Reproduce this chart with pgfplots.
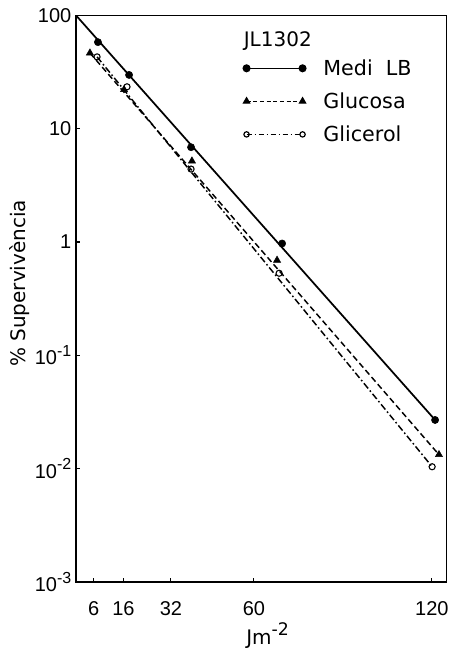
\documentclass[border=0pt]{standalone}
\usepackage{pgfplots}
\pgfplotsset{compat=1.18}
\usepackage{fontspec}
\setmainfont{Liberation Sans}
\newfontfamily\dejavu{DejaVu Sans}

% survival data (dose in J m^-2, % survival)
\pgfplotstableread{
x y
7.4 58
17.9 29.8
38.8 6.86
69.5 0.97
121.1 0.0269
}\medilb
\pgfplotstableread{
x y
4.7 46.5
16.2 22.1
39.1 5.18
67.8 0.69
122.4 0.0133
}\glucosa
\pgfplotstableread{
x y
7.1 43
17.2 23.4
38.8 4.4
68.5 0.53
120.1 0.0104
}\glicerol

\newcommand{\tenpow}[1]{10\raisebox{0.8ex}{\fontsize{12}{12}\selectfont#1}}

\begin{document}
\begin{tikzpicture}
% fixed frame: the axis box sits with its lower left corner at the origin
\useasboundingbox (-57pt,-51pt) rectangle (279.75pt,436.5pt);
\begin{axis}[
  scale only axis, width=278pt, height=425pt,
  ymode=log, xmin=0, xmax=125, ymin=1e-3, ymax=100,
  axis line style={line width=1.2pt},
  xtick={6,16,32,60,120}, xtick pos=bottom,
  ytick={1e-3,1e-2,1e-1,1,10,100}, ytick pos=left,
  yticklabels={\tenpow{-3},\tenpow{-2},\tenpow{-1},1,10,100},
  yminorticks=false,
  tick align=inside, major tick length=3pt,
  tick style={line width=0.8pt, black},
  ticklabel style={font=\fontsize{15}{17}\selectfont},
  xticklabel style={anchor=center, yshift=-20pt},
  /pgf/number format/assume math mode=true,
  xlabel={Jm\raisebox{0.8ex}{\fontsize{13}{13}\selectfont -2}},
  xlabel style={font=\dejavu\fontsize{15}{17}\selectfont, at={(rel axis cs:0.517,0)}, anchor=center, yshift=-40pt},
  ylabel={\% Supervivència},
  ylabel style={font=\dejavu\fontsize{15}{17}\selectfont, at={(rel axis cs:0,0.527)}, anchor=center, yshift=42pt},
  legend style={draw=none, fill=none, at={(0.44,0.932)}, anchor=north west,
    font=\dejavu\fontsize{15.5}{17}\selectfont, row sep=7.5pt},
  legend cell align=left,
  legend image code/.code={
    \draw[#1, mark repeat=2, mark phase=1] plot coordinates {(0pt,0pt) (21pt,0pt) (42pt,0pt)};
    \path (55pt,0pt);
  },
]
% fitted lines
\addplot[black, line width=1.3pt, forget plot] coordinates {(0,100) (121.1,0.0269)};
\addplot[black, line width=1.1pt, dash pattern=on 4.5pt off 2.5pt, forget plot]
  coordinates {(4.7,46.5) (122.4,0.0133)};
\addplot[black, line width=1.1pt, dash pattern=on 5pt off 2pt on 1.2pt off 2pt, forget plot]
  coordinates {(7.1,43) (120.1,0.0104)};
% measured points
\addplot[only marks, mark=*, mark size=2.7pt, black, forget plot] table {\medilb};
\addplot[only marks, mark=triangle*, mark size=3.1pt, black, forget plot] table {\glucosa};
\addplot[only marks, mark=o, mark size=2.3pt, black, thick, forget plot, fill=white] table {\glicerol};
% legend
\addlegendimage{black, line width=1.2pt, mark=*, mark size=2.4pt}
\addlegendentry{Medi\ \ LB}
\addlegendimage{black, line width=0.9pt, dash pattern=on 3pt off 2pt, mark=triangle*, mark size=2.7pt, mark options={solid}}
\addlegendentry{Glucosa}
\addlegendimage{black, line width=0.9pt, dash pattern=on 4pt off 2pt on 1pt off 2pt, mark=o, mark size=2pt, mark options={solid}}
\addlegendentry{Glicerol}
\node[anchor=west, font=\dejavu\fontsize{15}{17}\selectfont] at (rel axis cs:0.44,0.955) {JL1302};
\end{axis}
\end{tikzpicture}
\end{document}
